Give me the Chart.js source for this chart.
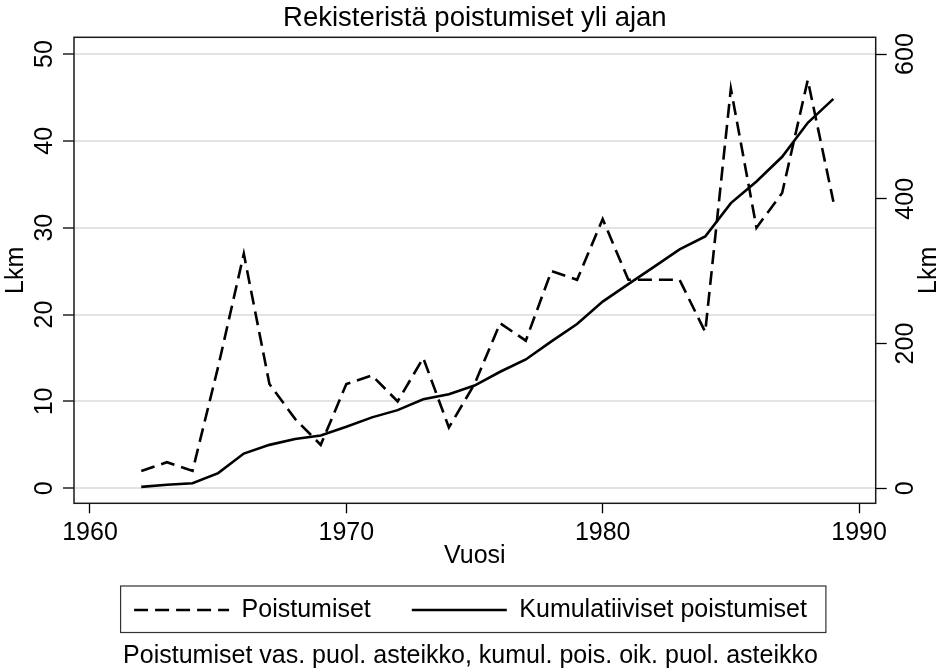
<!DOCTYPE html>
<html>
<head>
<meta charset="utf-8">
<title>Rekisteristä poistumiset yli ajan</title>
<script src="https://cdn.jsdelivr.net/npm/chart.js@4.4.1/dist/chart.umd.min.js"></script>
<style>
    html, body { margin: 0; padding: 0; background: #fff; }
</style>
</head>
<body>
<canvas id="chart" width="941" height="672"></canvas>
<script>
// ---------------- DATA ----------------
const years = [1962, 1963, 1964, 1965, 1966, 1967, 1968, 1969, 1970, 1971,
               1972, 1973, 1974, 1975, 1976, 1977, 1978, 1979, 1980, 1981,
               1982, 1983, 1984, 1985, 1986, 1987, 1988, 1989];
const removals = [2, 3, 2, 14, 27, 12, 8, 5, 12, 13,
                  10, 15, 7, 12, 19, 17, 25, 24, 31, 24,
                  24, 24, 18, 46, 30, 34, 47, 33];
const cumulative = [2, 5, 7, 21, 48, 60, 68, 73, 85, 98,
                    108, 123, 130, 142, 161, 178, 203, 227, 258, 282,
                    306, 330, 348, 394, 424, 458, 505, 538];
const xTicks = [1960, 1970, 1980, 1990];
const leftTicks = [0, 10, 20, 30, 40, 50];
const rightTicks = [0, 200, 400, 600];

// ---------------- STYLE ----------------
const FONT = "'Liberation Sans', Arial, Helvetica, sans-serif";
const font = (size) => ({ family: FONT, size: size, weight: "normal" });

// ---------------- FRAME, LEGEND BOX, RIGHT TITLE ----------------
const framePlugin = {
    id: "frame",
    afterDraw(chart) {
        const ctx = chart.ctx;
        const a = chart.chartArea;
        ctx.save();
        ctx.strokeStyle = "#1a1a1a";
        ctx.lineWidth = 1.5;
        ctx.strokeRect(a.left, a.top, a.right - a.left, a.bottom - a.top);

        const boxes = chart.legend.legendHitBoxes;
        if (boxes && boxes.length) {
            const first = boxes[0];
            const last = boxes[boxes.length - 1];
            const l = first.left - 13.5;
            const r = last.left + last.width + 19;
            const t = first.top - 11.5;
            const b = first.top + first.height + 10;
            ctx.lineWidth = 1.2;
            ctx.strokeStyle = "#333";
            ctx.strokeRect(l, t, r - l, b - t);
        }

        // right axis title reads bottom to top like the left one
        const y2 = chart.scales.y2;
        ctx.translate(y2.right - 11.4, (a.top + a.bottom) / 2);
        ctx.rotate(-Math.PI / 2);
        ctx.font = "25px " + FONT;
        ctx.fillStyle = "#000";
        ctx.textAlign = "center";
        ctx.textBaseline = "middle";
        ctx.fillText("Lkm", 0, 0);
        ctx.restore();
    }
};

// ---------------- CHART ----------------
new Chart(document.getElementById("chart"), {
    type: "line",
    data: {
        datasets: [{
            label: "Poistumiset",
            data: years.map((y, i) => ({ x: y, y: removals[i] })),
            yAxisID: "y",
            borderColor: "#000",
            backgroundColor: "rgba(0,0,0,0)",
            borderWidth: 2.6,
            borderDash: [14, 7],
            pointRadius: 0,
            tension: 0
        }, {
            label: "Kumulatiiviset poistumiset",
            data: years.map((y, i) => ({ x: y, y: cumulative[i] })),
            yAxisID: "y2",
            borderColor: "#000",
            backgroundColor: "rgba(0,0,0,0)",
            borderWidth: 2.6,
            pointRadius: 0,
            tension: 0
        }]
    },
    options: {
        responsive: false,
        animation: false,
        events: [],
        layout: { padding: 0 },
        plugins: {
            title: {
                display: true,
                text: "Rekisteristä poistumiset yli ajan",
                fullSize: false,
                font: font(27.5),
                color: "#000",
                padding: { top: 2.3, bottom: 2 }
            },
            subtitle: {
                display: true,
                position: "bottom",
                text: "Poistumiset vas. puol. asteikko, kumul. pois. oik. puol. asteikko",
                font: font(25),
                color: "#000",
                padding: { top: 8.8, bottom: 0.7 }
            },
            legend: {
                position: "bottom",
                maxHeight: 76,
                labels: {
                    font: font(25),
                    color: "#000",
                    usePointStyle: true,
                    pointStyle: "line",
                    pointStyleWidth: 95,
                    padding: 41,
                    generateLabels(chart) {
                        const items = Chart.defaults.plugins.legend.labels.generateLabels(chart);
                        items.forEach(it => {
                            const ds = chart.data.datasets[it.datasetIndex];
                            it.lineDash = ds.borderDash || [];
                            it.lineWidth = ds.borderWidth;
                            it.strokeStyle = ds.borderColor;
                        });
                        return items;
                    }
                }
            },
            tooltip: { enabled: false }
        },
        scales: {
            x: {
                type: "linear",
                min: 1959.376,
                max: 1990.65,
                afterBuildTicks: s => { s.ticks = xTicks.map(v => ({ value: v })); },
                ticks: {
                    font: font(25), color: "#000", padding: 5,
                    minRotation: 0, maxRotation: 0, autoSkip: false,
                    callback: v => String(v)
                },
                grid: { drawOnChartArea: false, tickLength: 10, tickColor: "#000", tickWidth: 1.3 },
                border: { display: false },
                title: {
                    display: true, text: "Vuosi", font: font(25), color: "#000",
                    padding: { top: -12, bottom: -14.8 }
                }
            },
            y: {
                position: "left",
                min: -1.727,
                max: 51.92,
                afterBuildTicks: s => { s.ticks = leftTicks.map(v => ({ value: v })); },
                ticks: {
                    font: font(25), color: "#000", padding: 4.4,
                    minRotation: 90, maxRotation: 90, crossAlign: "center",
                    autoSkip: false, callback: v => String(v)
                },
                grid: { color: "#e3e3e3", lineWidth: 2, tickLength: 11, tickColor: "#000", tickWidth: 1.3 },
                border: { display: false },
                title: {
                    display: true, text: "Lkm", font: font(25), color: "#000",
                    padding: { top: 1.3, bottom: -7.1 }
                }
            },
            y2: {
                position: "right",
                min: -20.72,
                max: 623.1,
                afterBuildTicks: s => { s.ticks = rightTicks.map(v => ({ value: v })); },
                ticks: {
                    font: font(25), color: "#000", padding: -1.25,
                    minRotation: 90, maxRotation: 90, crossAlign: "center",
                    autoSkip: false, callback: v => String(v)
                },
                grid: { drawOnChartArea: false, tickLength: 11, tickColor: "#000", tickWidth: 1.3 },
                border: { display: false },
                title: {
                    display: true, text: "Lkm", font: font(25), color: "rgba(0,0,0,0)",
                    padding: { top: 0, bottom: -3.2 }
                }
            }
        }
    },
    plugins: [framePlugin]
});
</script>
</body>
</html>
